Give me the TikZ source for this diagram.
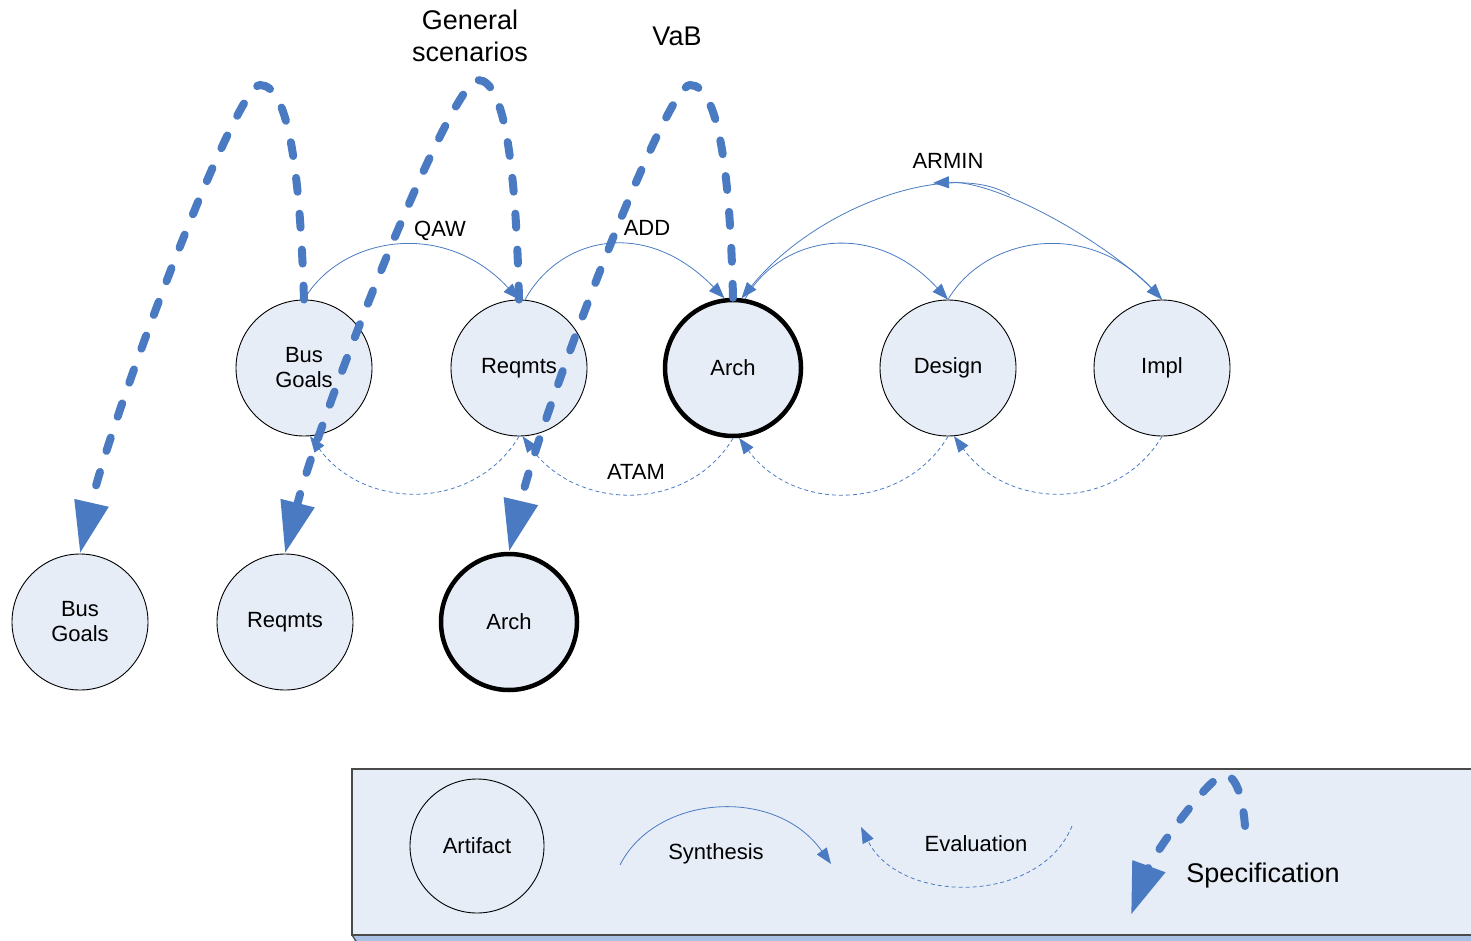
\documentclass[tikz,border=0pt]{standalone}
\usepackage{fontspec}
\setmainfont{Liberation Sans}
\usetikzlibrary{arrows.meta}
\definecolor{specblue}{HTML}{4A7BC2}
\definecolor{artfill}{HTML}{E6EDF7}
\definecolor{bandblue}{HTML}{A9C1E5}
\definecolor{boxgray}{HTML}{4A4A4A}

\begin{document}
\begin{tikzpicture}[x=1pt,y=-1pt,
  artifact/.style={circle, draw, line width=0.9pt, fill=artfill, minimum size=136pt, inner sep=0pt, align=center, font=\fontsize{22}{25}\selectfont},
  keyartifact/.style={artifact, line width=4.5pt},
  synth/.style={specblue, line width=0.8pt, -{Triangle[length=16pt,width=12pt]}},
  evalarc/.style={synth, dash pattern=on 4pt off 3pt},
  specarc/.style={specblue, line width=8pt, line cap=round, dash pattern=on 14pt off 22pt, -{Triangle[length=52pt,width=33pt]}},
  lbl/.style={font=\fontsize{22}{25}\selectfont, align=center},
  biglbl/.style={font=\fontsize{27}{32}\selectfont, align=center}]
\useasboundingbox (0,0) rectangle (1471,941);
% legend box
\draw[boxgray, fill=artfill, line width=1.5pt] (352,769) rectangle (1490,935);
\fill[bandblue] (352,936) -- (1490,936) -- (1490,950) -- (359,950) -- cycle;
\draw[boxgray, line width=1.2pt] (352,935) -- (358,944);

\path (304,368) node[artifact](bgoals) {Bus\\Goals}
(519,368) node[artifact](reqmts) {Reqmts}
(733,368) node[keyartifact](arch) {Arch}
(948,368) node[artifact](design) {Design}
(1162,368) node[artifact](impl) {Impl}
(80,622) node[artifact](bgoals2) {Bus\\Goals}
(285,622) node[artifact](reqmts2) {Reqmts}
(509,622) node[keyartifact](arch2) {Arch}
(477,846) node[artifact, fill=none, minimum size=134pt](artif) {Artifact};

\path (440,231) node[lbl](qawlbl) {QAW}
(647,228) node[lbl](addlbl) {ADD}
(948,161) node[lbl](arminlbl) {ARMIN}
(636,472) node[lbl](atamlbl) {ATAM}
(470,36) node[biglbl](genlbl) {General\\scenarios}
(677,36) node[biglbl](vablbl) {VaB}
(716,854) node[lbl](synlbl) {Synthesis}
(976,844) node[lbl](evallbl) {Evaluation}
(1263,876) node[biglbl](speclbl) {Specification};

\coordinate (arminA) at (1010,195);
\coordinate (arminB) at (933,183);
\coordinate (synA) at (620,865);
\coordinate (synB) at (831,864);
\coordinate (evA) at (1072,826);
\coordinate (evB) at (861,827);
\coordinate (specA) at (1245,826);
\coordinate (specB) at (1131,915);
\coordinate (top1) at (260,85);
\coordinate (top2) at (478,80);
\coordinate (top3) at (690,85);
\coordinate (top4) at (1224,775);

% synthesis
\draw[synth] (bgoals.north) .. controls +(36,-62) and +(-76,-82) .. (reqmts.north);
\draw[synth] (reqmts.85) .. controls +(34,-62) and +(-80,-82) .. (arch.97);
\draw[synth] (arch.80) .. controls +(34,-62) and +(-76,-82) .. (design.north);
\draw[synth] (design.north) .. controls +(36,-62) and +(-76,-82) .. (impl.north);
\draw[synth] (arminA) .. controls +(-60,-36) and +(75,-92) .. (arch.83);
\draw[synth] (impl.north) .. controls +(-42,-50) and +(67,-3) .. (arminB);
\draw[synth] (synA) .. controls +(35,-70) and +(-56,-79) .. (synB);

% evaluation
\draw[evalarc] (reqmts.south) .. controls +(-45,75) and +(55,75) .. (bgoals.-85);
\draw[evalarc] (arch.south) .. controls +(-45,75) and +(55,75) .. (reqmts.-87);
\draw[evalarc] (design.south) .. controls +(-45,75) and +(55,75) .. (arch.-85);
\draw[evalarc] (impl.south) .. controls +(-45,75) and +(55,75) .. (design.-85);
\draw[evalarc] (evA) .. controls +(-32,79) and +(39,78) .. (evB);

% specification
\draw[specarc] (bgoals.north) .. controls +(-4,-120) and +(30,0) .. (top1) .. controls +(-25,0) and +(30,-132) .. (bgoals2.north);
\draw[specarc] (reqmts.north) .. controls +(-3,-130) and +(27,0) .. (top2) .. controls +(-28,0) and +(33,-132) .. (reqmts2.north);
\draw[specarc] (arch.north) .. controls +(-3,-128) and +(28,0) .. (top3) .. controls +(-25,0) and +(31,-132) .. (arch2.north);
\draw[specarc] (specA) .. controls +(-3,-36) and +(10,0) .. (top4) .. controls +(-14,0) and +(22,-60) .. (specB);
\end{tikzpicture}
\end{document}
